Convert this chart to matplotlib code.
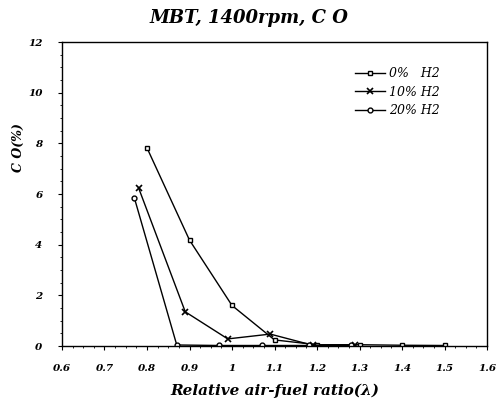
import matplotlib
matplotlib.use("Agg")
import matplotlib.pyplot as plt
from matplotlib.ticker import MultipleLocator

# Data
lam_0 = [0.80, 0.90, 1.00, 1.10, 1.20, 1.30, 1.40, 1.50]
co_0 = [7.82, 4.18, 1.60, 0.24, 0.05, 0.05, 0.03, 0.02]
lam_10 = [0.78, 0.89, 0.99, 1.09, 1.19, 1.29]
co_10 = [6.25, 1.35, 0.28, 0.47, 0.03, 0.03]
lam_20 = [0.77, 0.87, 0.97, 1.07, 1.18, 1.28]
co_20 = [5.86, 0.04, 0.02, 0.02, 0.02, 0.02]
labels = ["0%   H2", "10% H2", "20% H2"]
xticks = [0.6, 0.7, 0.8, 0.9, 1.0, 1.1, 1.2, 1.3, 1.4, 1.5, 1.6]
xticklabels = ["0.6", "0.7", "0.8", "0.9", "1", "1.1", "1.2", "1.3", "1.4", "1.5", "1.6"]
yticks = [0, 2, 4, 6, 8, 10, 12]

font = dict(family="DejaVu Serif", style="italic", weight="bold")

fig = plt.figure(figsize=(4.97, 4.09), dpi=100)
ax = fig.add_axes([62/497, 1-346/409, (487-62)/497, (346-42)/409])

ax.plot(lam_0, co_0, color="black", lw=1.0, marker="s", ms=3.5, mfc="white", mew=1.0, label=labels[0])
ax.plot(lam_10, co_10, color="black", lw=1.0, marker="x", ms=4.5, mew=1.2, label=labels[1])
ax.plot(lam_20, co_20, color="black", lw=1.0, marker="o", ms=3.5, mfc="white", mew=1.0, label=labels[2])

ax.set_xlim(0.6, 1.6)
ax.set_ylim(0, 12)
ax.set_xticks(xticks)
ax.set_xticklabels(xticklabels, fontsize=7.5, **font)
ax.set_yticks(yticks)
ax.set_yticklabels([str(v) for v in yticks], fontsize=7.5, **font)
ax.xaxis.set_minor_locator(MultipleLocator(0.025))
ax.yaxis.set_minor_locator(MultipleLocator(0.5))
ax.tick_params(which="major", direction="out", length=3, width=0.8)
ax.tick_params(which="minor", direction="out", length=1.5, width=0.6)
ax.tick_params(axis="y", which="major", pad=11)
ax.tick_params(axis="x", which="major", pad=10)
for s in ax.spines.values():
    s.set_linewidth(1.0)

ax.set_xlabel("Relative air-fuel ratio(λ)", fontsize=11, **font)
ax.xaxis.set_label_coords(0.5, -(384-346)/304)
ax.set_ylabel("C O(%)", fontsize=9, **font)
ax.yaxis.set_label_coords(-(62-25)/425, (346-148)/304)
fig.text(0.5, 1-18/409, "MBT, 1400rpm, C O", ha="center", va="center", fontsize=13, **font)

leg = ax.legend(loc="upper left", bbox_to_anchor=((350-62)/425, (346-62)/304), frameon=False,
                prop=dict(family="DejaVu Serif", style="italic", size=9),
                handlelength=2.4, labelspacing=0.45, handletextpad=0.3, borderaxespad=0)

fig.savefig("out.png", dpi=100)
